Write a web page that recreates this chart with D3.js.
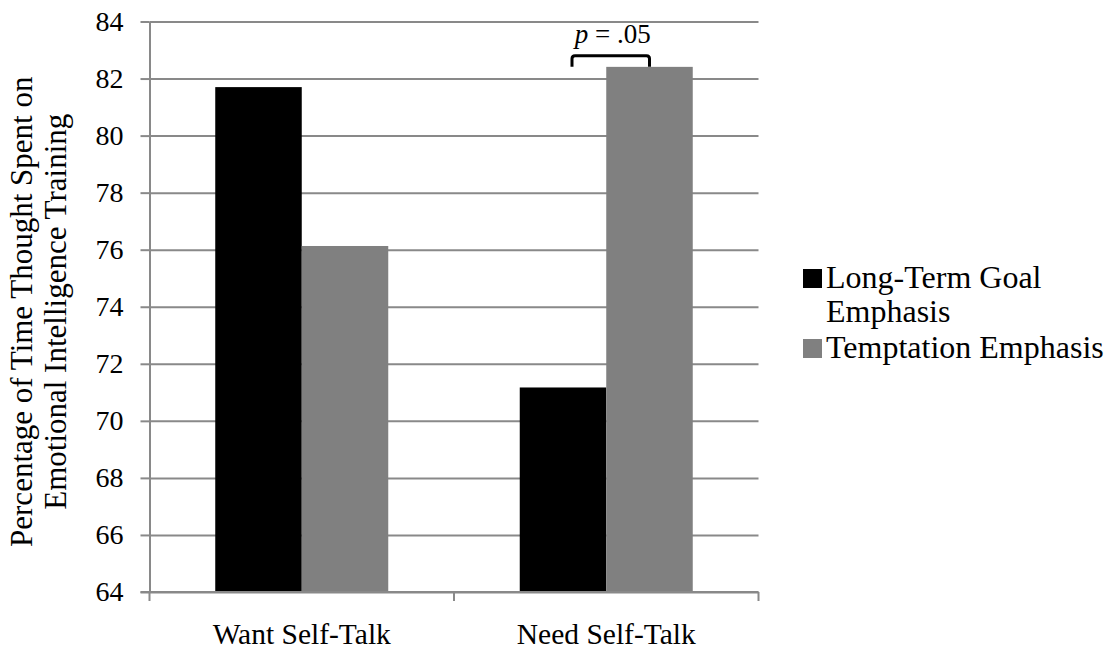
<!DOCTYPE html>
<html>
<head>
<meta charset="utf-8">
<script src="https://cdn.jsdelivr.net/npm/d3@7"></script>
<style>
  svg text, svg tspan { font-family: "Liberation Serif", "Times New Roman", Tinos, serif !important; }
</style>
</head>
<body style="margin:0">
<svg id="chart" width="1110" height="655"></svg>
<script>
const categories = ["Want Self-Talk", "Need Self-Talk"];
const seriesNames = ["Long-Term Goal Emphasis", "Temptation Emphasis"];
const longTermGoal = [81.70, 71.17];
const temptation = [76.13, 82.41];
const yTicks = [64, 66, 68, 70, 72, 74, 76, 78, 80, 82, 84];
const seriesColors = ["#000000", "#808080"];
const yTitleLines = ["Percentage of Time Thought Spent on", "Emotional Intelligence Training"];
const sigLabel = ".05";

const FONT = "\"Liberation Serif\", \"Times New Roman\", Tinos, serif";
const svg = d3.select("#chart");
const pLeft = 149.5, pRight = 758.5, pTop = 21.5, pBottom = 592;
const gridColor = "#898989";

const x = d3.scaleBand().domain(categories).range([pLeft, pRight]).paddingInner(0).paddingOuter(0);
const x1 = d3.scaleBand().domain(seriesNames).range([0, x.bandwidth()]).paddingInner(0).paddingOuter(0.76);
const y = d3.scaleLinear().domain([64, 84]).range([pBottom, pTop]);

function serif(sel) { return sel.style("font-family", FONT, "important"); }

// gridlines
svg.append("g")
  .attr("transform", `translate(${pLeft},0)`)
  .call(d3.axisLeft(y).tickValues(yTicks).tickSize(-(pRight - pLeft)).tickFormat(""))
  .call(g => g.select(".domain").remove())
  .call(g => g.selectAll("line").attr("stroke", gridColor).attr("stroke-width", 2));

// bars
const data = categories.map((c, i) => ({ cat: c, vals: [longTermGoal[i], temptation[i]] }));
const groups = svg.append("g").selectAll("g").data(data).join("g")
  .attr("transform", d => `translate(${x(d.cat)},0)`);
groups.selectAll("rect").data(d => d.vals.map((v, j) => ({ v, s: seriesNames[j], j })))
  .join("rect")
  .attr("x", d => x1(d.s))
  .attr("width", x1.bandwidth())
  .attr("y", d => y(d.v))
  .attr("height", d => y(64) - y(d.v))
  .attr("fill", d => seriesColors[d.j]);

// y axis
svg.append("g")
  .attr("transform", `translate(${pLeft},0)`)
  .call(d3.axisLeft(y).tickValues(yTicks).tickSize(9).tickSizeOuter(0).tickPadding(17))
  .attr("font-family", FONT).attr("font-size", 28)
  .call(g => g.select(".domain").attr("stroke", gridColor).attr("stroke-width", 2))
  .call(g => g.selectAll("line").attr("stroke", gridColor).attr("stroke-width", 2))
  .call(g => serif(g.selectAll("text")).attr("fill", "#000"));

// x axis
const xAxisG = svg.append("g")
  .attr("transform", `translate(0,${pBottom})`)
  .call(d3.axisBottom(x).tickSize(0).tickSizeOuter(0).tickPadding(31))
  .attr("font-family", FONT).attr("font-size", 29.5)
  .call(g => g.select(".domain").attr("stroke", gridColor).attr("stroke-width", 2)
      .attr("d", `M${pLeft - 9},0H${pRight}`))
  .call(g => serif(g.selectAll("text")).attr("fill", "#000"));
const edges = categories.map(c => x(c)).concat([x(categories[categories.length - 1]) + x.bandwidth()]);
xAxisG.selectAll("line.edge").data(edges).join("line")
  .attr("class", "edge")
  .attr("x1", d => d).attr("x2", d => d)
  .attr("y1", 0).attr("y2", 9)
  .attr("stroke", gridColor).attr("stroke-width", 2);

// y title
const yTitle = serif(svg.append("text"))
  .attr("transform", `translate(0,${(pTop + pBottom) / 2 + 5}) rotate(-90)`)
  .attr("text-anchor", "middle")
  .attr("font-size", 31)
  .attr("fill", "#000");
serif(yTitle.selectAll("tspan").data(yTitleLines).join("tspan"))
  .attr("x", 0)
  .attr("y", (d, i) => 32 + i * 34)
  .text(d => d);

// significance bracket
const needCat = categories[1];
const xl = x(needCat) + x1(seriesNames[0]) + x1.bandwidth() / 2 + 9;
const xr = x(needCat) + x1(seriesNames[1]) + x1.bandwidth() / 2;
const yb = y(temptation[1]);
const yt = yb - 11;
const rr = 3;
svg.append("path")
  .attr("d", `M${xl},${yb}V${yt + rr}Q${xl},${yt} ${xl + rr},${yt}H${xr - rr}Q${xr},${yt} ${xr},${yt + rr}V${yb}`)
  .attr("fill", "none").attr("stroke", "#000").attr("stroke-width", 3);
const sig = serif(svg.append("text"))
  .attr("x", (xl + xr) / 2 + 2)
  .attr("y", yt - 13)
  .attr("text-anchor", "middle")
  .attr("font-size", 27)
  .attr("fill", "#000");
serif(sig.append("tspan")).attr("font-style", "italic").text("p");
serif(sig.append("tspan")).text(" = " + sigLabel);

// legend
const legend = svg.append("g").attr("transform", "translate(803,0)");
const legendLines = [["Long-Term Goal", "Emphasis"], ["Temptation Emphasis"]];
const legendBaselines = [288, 358];
legendLines.forEach((lines, i) => {
  legend.append("rect")
    .attr("x", 0).attr("y", legendBaselines[i] - 19)
    .attr("width", 19).attr("height", 19)
    .attr("fill", seriesColors[i]);
  const t = serif(legend.append("text"))
    .attr("font-size", 32).attr("fill", "#000");
  serif(t.selectAll("tspan").data(lines).join("tspan"))
    .attr("x", 23)
    .attr("y", (d, k) => legendBaselines[i] + k * 34)
    .text(d => d);
});
</script>
</body>
</html>
